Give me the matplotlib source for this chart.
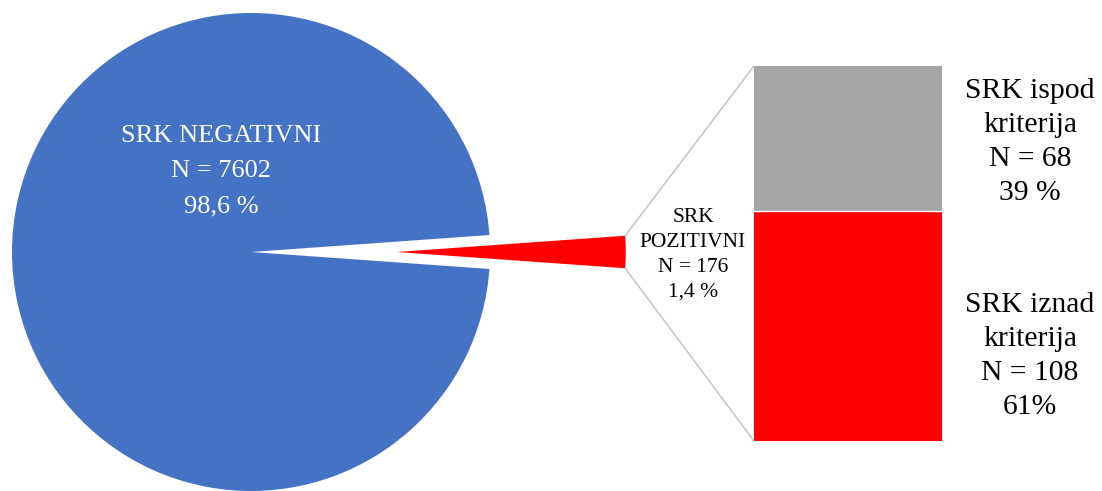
import matplotlib
matplotlib.use("Agg")
import matplotlib.pyplot as plt
from matplotlib.patches import ConnectionPatch
import numpy as np

# ---- data ----
pie_labels = ["SRK POZITIVNI", "SRK NEGATIVNI"]
pie_values = [176, 7602]
pie_pct = ["1,4 %", "98,6 %"]
bar_labels = ["SRK iznad\nkriterija", "SRK ispod\nkriterija"]
bar_values = [108, 68]
bar_pct = ["61%", "39 %"]

W, H = 1102, 491
fig = plt.figure(figsize=(W / 100, H / 100), dpi=100)
plt.rcParams['font.family'] = ['Liberation Serif', 'DejaVu Serif']

# pie axes covering full figure; unit = pie radius
CX, CY, R = 251, 252, 239
ax1 = fig.add_axes([0, 0, 1, 1])

def d(px, py):
    return (px - CX) / R, (CY - py) / R

red_angle = 360.0 * pie_values[0] / sum(pie_values)
wedges, _ = ax1.pie(pie_values, colors=["#FF0000", "#4472C4"],
                    startangle=-red_angle / 2, counterclock=True,
                    explode=[0.61, 0], radius=1.0,
                    wedgeprops=dict(linewidth=0))
wedges[0].set_radius(0.958)
ax1.set_aspect('auto')
ax1.set_xlim(-CX / R, (W - CX) / R)
ax1.set_ylim(-(H - CY) / R, CY / R)
ax1.axis('off')

# bar axes
bx0, bx1, by_top, by_bot = 754, 942, 66, 441
ax2 = fig.add_axes([bx0 / W, (H - by_bot) / H, (bx1 - bx0) / W, (by_bot - by_top) / H])
ax2.bar(0, bar_values[0], width=1.0, color="#FF0000", linewidth=0)
ax2.bar(0, bar_values[1], bottom=bar_values[0], width=1.0, color="#A5A5A5", linewidth=0)
ax2.set_xlim(-0.5, 0.5)
ax2.set_ylim(0, sum(bar_values))
ax2.axis('off')
ax2.axhline(bar_values[0], color='white', lw=1)

# connecting lines
w = wedges[0]
th1, th2 = np.deg2rad(w.theta1), np.deg2rad(w.theta2)
cx, cy = w.center
r = w.r
p_top = (cx + r * np.cos(th2), cy + r * np.sin(th2))
p_bot = (cx + r * np.cos(th1), cy + r * np.sin(th1))
total = sum(bar_values)
for p, yb in [(p_top, total), (p_bot, 0)]:
    con = ConnectionPatch(xyA=(-0.5, yb), coordsA=ax2.transData,
                          xyB=p, coordsB=ax1.transData,
                          color="#BFBFBF", lw=1)
    fig.add_artist(con)

# texts
x, y = d(221, 171)
ax1.text(x, y, f"{pie_labels[1]}\nN = {pie_values[1]}\n{pie_pct[1]}",
         color='white', fontsize=19, ha='center', va='center', linespacing=1.78)
x, y = d(693, 255)
ax1.text(x, y, "SRK\nPOZITIVNI\nN = %d\n%s" % (pie_values[0], pie_pct[0]),
         color='black', fontsize=15.5, ha='center', va='center', linespacing=1.42)
x, y = d(1030, 142)
ax1.text(x, y, f"{bar_labels[1]}\nN = {bar_values[1]}\n{bar_pct[1]}",
         color='black', fontsize=21.3, ha='center', va='center', linespacing=1.4)
x, y = d(1030, 356)
ax1.text(x, y, f"{bar_labels[0]}\nN = {bar_values[0]}\n{bar_pct[0]}",
         color='black', fontsize=21.3, ha='center', va='center', linespacing=1.4)

fig.savefig("out.png", dpi=100)
